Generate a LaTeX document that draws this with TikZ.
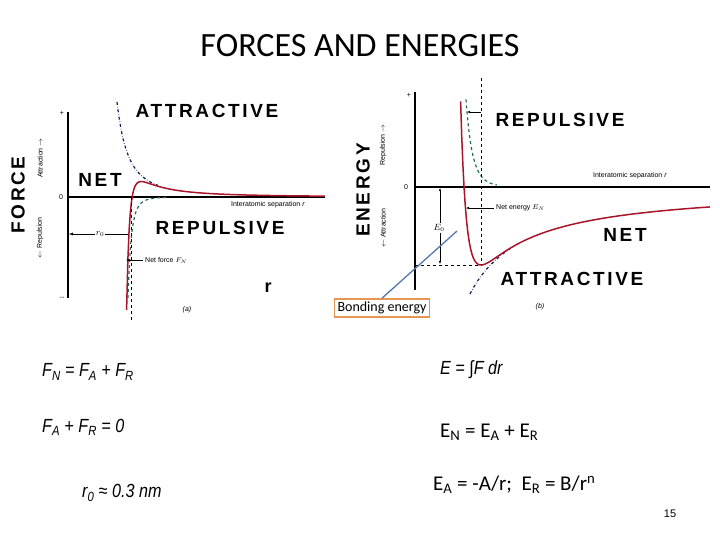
\documentclass[tikz,border=0pt]{standalone}
\usepackage{fontspec}
\setmainfont{Carlito}
\newfontfamily\arl{Liberation Sans}
\newfontfamily\arlw[LetterSpace=14]{Liberation Sans}
\usetikzlibrary{arrows.meta}
\definecolor{netcol}{RGB}{170,20,40}
\definecolor{repcol}{RGB}{30,110,80}
\definecolor{attcol}{RGB}{20,30,90}
\definecolor{boxcol}{RGB}{230,150,80}
\definecolor{linecol}{RGB}{80,120,170}
\begin{document}
\begin{tikzpicture}[x=1pt,y=-1pt,
  big/.style={font=\arlw\bfseries\fontsize{19}{19}\selectfont,inner sep=0},
  tiny/.style={font=\arl\fontsize{7}{8}\selectfont,inner sep=0},
  eq/.style={font=\arl\itshape\fontsize{19}{20}\selectfont,inner sep=0,anchor=west,xscale=0.85},
  eqr/.style={font=\fontsize{21}{22}\selectfont,inner sep=0,anchor=west},
  ax/.style={line width=1.3pt},
  netc/.style={draw=netcol,line width=1.5pt},
  repc/.style={draw=repcol,dashed,line width=1.2pt},
  attc/.style={draw=attcol,dash dot,line width=1.2pt}]
\useasboundingbox (0,0) rectangle (720,540);
\node (title) at (360,46) {\fontsize{34}{36}\selectfont FORCES AND ENERGIES};
% ---- left plot
\coordinate (la1) at (68,112); \coordinate (la2) at (68,298);
\coordinate (lz1) at (68,197); \coordinate (lz2) at (325,197);
\draw[ax] (la1) -- (la2);
\draw[ax] (lz1) -- (lz2);
\node[tiny] (lp) at (62,113) {+};
\node[tiny] (lm) at (62,298) {--};
\node[tiny] (l0) at (61,197) {0};
\node[tiny,rotate=90] (latt) at (40,158) {Attraction $\rightarrow$};
\node[tiny,rotate=90] (lrep) at (40,238) {$\leftarrow$ Repulsion};
\node[big,rotate=90] (force) at (18,195) {FORCE};
\draw[attc] plot[domain=117:158,samples=40] (\x,{197-460/(((\x-95)/10)^2)});
\draw[repc] plot[domain=128:168,samples=60] (\x,{197+288/(((\x-115)/10)^2)/(((\x-115)/10)^2)});
\draw[netc] plot[domain=126.6:325,samples=160] (\x,{197-460/(((\x-95)/10)^2)+288/(((\x-115)/10)^2)/(((\x-115)/10)^2)});
\coordinate (lv1) at (131,197); \coordinate (lv2) at (131,320);
\draw[dashed,line width=1pt] (lv1) -- (lv2);
\coordinate (r0a) at (128,234); \coordinate (r0b) at (69,234);
\draw[-{Latex[length=4pt]}] (r0a) -- (r0b);
\node[tiny,fill=white,inner sep=1pt] (r0) at (100,234) {\fontsize{9}{9}\selectfont $r_0$};
\coordinate (nfa) at (143,260); \coordinate (nfb) at (126,260);
\draw[-{Latex[length=3pt]}] (nfa) -- (nfb);
\node[tiny,anchor=west] (nf) at (145,260) {Net force $F_N$};
\node[tiny] (lsep) at (268,205) {Interatomic separation \textit{r}};
\node[big] (latt2) at (207,111) {ATTRACTIVE};
\node[big] (lnet) at (100,180) {NET};
\node[big] (lrep2) at (220,228) {REPULSIVE};
\node[font=\arl\bfseries\fontsize{18}{18}\selectfont] (rr) at (268,288) {r};
\node[tiny] (la) at (187,310) {\textit{(a)}};
% ---- right plot
\coordinate (ra1) at (415,92); \coordinate (ra2) at (415,290);
\coordinate (rz1) at (415,187); \coordinate (rz2) at (710,187);
\draw[ax] (ra1) -- (ra2);
\draw[ax] (rz1) -- (rz2);
\node[tiny] (rp) at (409,95) {+};
\node[tiny] (r0l) at (406,187) {0};
\node[tiny,rotate=90] (rrep) at (383,145) {Repulsion $\rightarrow$};
\node[tiny,rotate=90] (ratt) at (383,228) {$\leftarrow$ Attraction};
\node[big,rotate=90] (energy) at (363,190) {ENERGY};
\draw[repc] plot[domain=466:497,samples=50] (\x,{187-78/7*((66/(\x-415))^8)});
\draw[attc] plot[domain=470:510,samples=30] (\x,{187+8*78/7*66/(\x-415)});
\draw[netc] plot[domain=460.6:710,samples=220] (\x,{187-78/7*(((66/(\x-415))^8)-8*66/(\x-415))});
\coordinate (rv1) at (481,78); \coordinate (rv2) at (481,265);
\draw[dashed,line width=0.8pt] (rv1) -- (rv2);
\coordinate (rh1) at (415,265);
\draw[dashed,line width=1pt] (rh1) -- (rv2);
\coordinate (e0a) at (440,188); \coordinate (e0b) at (440,264);
\draw[{Latex[length=3pt]}-{Latex[length=3pt]}] (e0a) -- (e0b);
\node[tiny,fill=white,inner sep=1pt] (e0) at (439,228) {\fontsize{9}{9}\selectfont $E_0$};
\coordinate (rra) at (481,112); \coordinate (rrb) at (467,112);
\draw[-{Latex[length=3pt]}] (rra) -- (rrb);
\coordinate (nea) at (494,208); \coordinate (neb) at (466,208);
\draw[-{Latex[length=3pt]}] (nea) -- (neb);
\node[tiny,anchor=west] (ne) at (496,208) {Net energy $E_N$};
\node[tiny] (rsep) at (630,176) {Interatomic separation \textit{r}};
\node[big] (rrep2) at (560,120) {REPULSIVE};
\node[big] (rnet) at (625,235) {NET};
\node[big] (ratt2) at (572,279) {ATTRACTIVE};
\node[tiny] (rb) at (540,307) {\textit{(b)}};
\node[draw=boxcol,line width=1.5pt,fill=white,inner sep=3pt,font=\fontsize{14}{15}\selectfont] (bond) at (382,308) {Bonding energy};
\coordinate (bt) at (457,231);
\draw[draw=linecol,line width=1.3pt] (bond.north) -- (bt);
% ---- equations
\node[eq] (e1) at (42,372) {F\textsubscript{N} = F\textsubscript{A} + F\textsubscript{R}};
\node[eq] (e2) at (42,427) {F\textsubscript{A} + F\textsubscript{R} = 0};
\node[eq] (e3) at (82,493) {r\textsubscript{0} ≈ 0.3 nm};
\node[eq] (e4) at (440,370) {E = ∫F dr};
\node[eqr] (e5) at (440,432) {E\textsubscript{N} = E\textsubscript{A} + E\textsubscript{R}};
\node[eqr] (e6) at (433,485) {E\textsubscript{A} = -A/r;\ \ E\textsubscript{R} = B/r\textsuperscript{n}};
\node[font=\arl\fontsize{11}{11}\selectfont] (pg) at (670,514) {15};
\end{tikzpicture}
\end{document}
